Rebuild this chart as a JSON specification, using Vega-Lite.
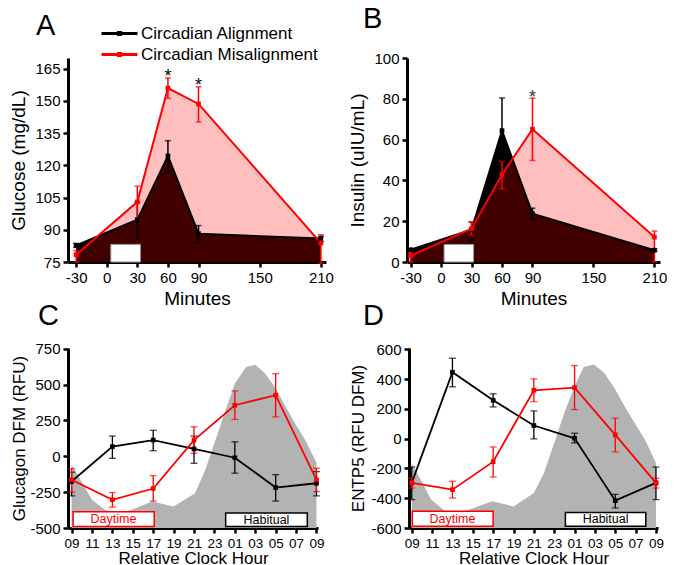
{
  "$schema": "https://vega.github.io/schema/vega-lite/v6.json",
  "background": "white",
  "padding": {"left": 9, "top": 5, "right": 0, "bottom": 0},
  "autosize": {"type": "pad"},
  "spacing": -7,
  "config": {
    "view": {"stroke": null},
    "font": "Liberation Sans",
    "axis": {
      "domainColor": "#000", "domainWidth": 3, "tickColor": "#000", "tickWidth": 2.5, "tickSize": 5,
      "labelFont": "Liberation Sans", "labelFontSize": 15, "labelColor": "#000", "labelPadding": 3,
      "titleFont": "Liberation Sans", "titleFontWeight": "normal", "titleColor": "#000", "grid": false,
      "labelFlush": false, "labelOverlap": false, "labelBound": false
    },
    "title": {"font": "Liberation Sans", "fontSize": 29, "fontWeight": "normal", "color": "#000", "anchor": "start", "frame": "group"}
  },
  "datasets": {
    "glucose": [
      {"series": "Circadian Alignment", "t": -30, "mean": 82.7, "lo": 81.8, "hi": 83.7, "sig": ""},
      {"series": "Circadian Alignment", "t": 30, "mean": 94.7, "lo": 85.7, "hi": 102.9, "sig": ""},
      {"series": "Circadian Alignment", "t": 60, "mean": 124.4, "lo": 116.4, "hi": 131.5, "sig": ""},
      {"series": "Circadian Alignment", "t": 90, "mean": 88.2, "lo": 83.8, "hi": 92, "sig": ""},
      {"series": "Circadian Alignment", "t": 210, "mean": 85.9, "lo": 84.4, "hi": 87, "sig": ""},
      {"series": "Circadian Misalignment", "t": -30, "mean": 78.4, "lo": 75, "hi": 80.4, "sig": ""},
      {"series": "Circadian Misalignment", "t": 30, "mean": 103, "lo": 94.4, "hi": 110.3, "sig": ""},
      {"series": "Circadian Misalignment", "t": 60, "mean": 156, "lo": 151.2, "hi": 160.7, "sig": "*"},
      {"series": "Circadian Misalignment", "t": 90, "mean": 148.6, "lo": 140.2, "hi": 156.6, "sig": "*"},
      {"series": "Circadian Misalignment", "t": 210, "mean": 83.8, "lo": 74.5, "hi": 87.7, "sig": ""}
    ],
    "insulin": [
      {"series": "Circadian Alignment", "t": -30, "mean": 6.0, "lo": 5.4, "hi": 6.6, "sig": ""},
      {"series": "Circadian Alignment", "t": 30, "mean": 15.8, "lo": 10.6, "hi": 19.6, "sig": ""},
      {"series": "Circadian Alignment", "t": 60, "mean": 64.4, "lo": 48, "hi": 80.4, "sig": ""},
      {"series": "Circadian Alignment", "t": 90, "mean": 23.7, "lo": 20.9, "hi": 26.4, "sig": ""},
      {"series": "Circadian Alignment", "t": 210, "mean": 5.8, "lo": 5.2, "hi": 6.4, "sig": ""},
      {"series": "Circadian Misalignment", "t": -30, "mean": 3.1, "lo": 0, "hi": 4.9, "sig": ""},
      {"series": "Circadian Misalignment", "t": 30, "mean": 16.3, "lo": 13, "hi": 19.6, "sig": ""},
      {"series": "Circadian Misalignment", "t": 60, "mean": 42.9, "lo": 35.9, "hi": 49.4, "sig": ""},
      {"series": "Circadian Misalignment", "t": 90, "mean": 65.1, "lo": 49.8, "hi": 80.3, "sig": "*"},
      {"series": "Circadian Misalignment", "t": 210, "mean": 12.2, "lo": 0, "hi": 15.2, "sig": ""}
    ],
    "glucagon": [
      {"series": "Circadian Alignment", "h": 0, "mean": -176, "lo": -276, "hi": -111},
      {"series": "Circadian Alignment", "h": 4, "mean": 67, "lo": -14, "hi": 141},
      {"series": "Circadian Alignment", "h": 8, "mean": 113, "lo": 39, "hi": 181},
      {"series": "Circadian Alignment", "h": 12, "mean": 51, "lo": -49, "hi": 141},
      {"series": "Circadian Alignment", "h": 16, "mean": -10, "lo": -118, "hi": 101},
      {"series": "Circadian Alignment", "h": 20, "mean": -218, "lo": -312, "hi": -128},
      {"series": "Circadian Alignment", "h": 24, "mean": -188, "lo": -276, "hi": -107},
      {"series": "Circadian Misalignment", "h": 0, "mean": -164, "lo": -250, "hi": -86},
      {"series": "Circadian Misalignment", "h": 4, "mean": -303, "lo": -354, "hi": -253},
      {"series": "Circadian Misalignment", "h": 8, "mean": -225, "lo": -312, "hi": -135},
      {"series": "Circadian Misalignment", "h": 12, "mean": 113, "lo": 21, "hi": 206},
      {"series": "Circadian Misalignment", "h": 16, "mean": 356, "lo": 257, "hi": 456},
      {"series": "Circadian Misalignment", "h": 20, "mean": 426, "lo": 275, "hi": 576},
      {"series": "Circadian Misalignment", "h": 24, "mean": -164, "lo": -246, "hi": -83}
    ],
    "entp5": [
      {"series": "Circadian Alignment", "h": 0, "mean": -297, "lo": -409, "hi": -190},
      {"series": "Circadian Alignment", "h": 4, "mean": 447, "lo": 349, "hi": 541},
      {"series": "Circadian Alignment", "h": 8, "mean": 259, "lo": 214, "hi": 302},
      {"series": "Circadian Alignment", "h": 12, "mean": 89, "lo": -1, "hi": 187},
      {"series": "Circadian Alignment", "h": 16, "mean": 3, "lo": -28, "hi": 37},
      {"series": "Circadian Alignment", "h": 20, "mean": -416, "lo": -465, "hi": -374},
      {"series": "Circadian Alignment", "h": 24, "mean": -297, "lo": -409, "hi": -190},
      {"series": "Circadian Misalignment", "h": 0, "mean": -297, "lo": -331, "hi": -266},
      {"series": "Circadian Misalignment", "h": 4, "mean": -342, "lo": -398, "hi": -286},
      {"series": "Circadian Misalignment", "h": 8, "mean": -154, "lo": -257, "hi": -55},
      {"series": "Circadian Misalignment", "h": 12, "mean": 326, "lo": 250, "hi": 403},
      {"series": "Circadian Misalignment", "h": 16, "mean": 344, "lo": 196, "hi": 492},
      {"series": "Circadian Misalignment", "h": 20, "mean": 26, "lo": -88, "hi": 138},
      {"series": "Circadian Misalignment", "h": 24, "mean": -297, "lo": -331, "hi": -266}
    ],
    "greyC": [
      {"h": 0, "v": -55}, {"h": 1, "v": -180}, {"h": 2, "v": -303}, {"h": 3.3, "v": -375}, {"h": 4.5, "v": -400},
      {"h": 5.9, "v": -373}, {"h": 7.9, "v": -315}, {"h": 10, "v": -350}, {"h": 12.1, "v": -257},
      {"h": 13.1, "v": -95}, {"h": 14.1, "v": 113}, {"h": 15.1, "v": 322}, {"h": 16, "v": 507},
      {"h": 17.1, "v": 622}, {"h": 18, "v": 639}, {"h": 19, "v": 576}, {"h": 20, "v": 472},
      {"h": 21, "v": 344}, {"h": 21.9, "v": 229}, {"h": 22.9, "v": 113}, {"h": 24, "v": -45}
    ],
    "greyD": [
      {"h": 0, "v": -165}, {"h": 1, "v": -290}, {"h": 1.9, "v": -409}, {"h": 3.3, "v": -488}, {"h": 4.5, "v": -500},
      {"h": 5.6, "v": -477}, {"h": 7.9, "v": -421}, {"h": 10, "v": -455}, {"h": 12, "v": -364},
      {"h": 13, "v": -230}, {"h": 14, "v": -28}, {"h": 15, "v": 174}, {"h": 16, "v": 353},
      {"h": 16.9, "v": 483}, {"h": 17.9, "v": 499}, {"h": 18.9, "v": 443}, {"h": 19.9, "v": 342},
      {"h": 21, "v": 208}, {"h": 22, "v": 95}, {"h": 23, "v": -17}, {"h": 24, "v": -163}
    ]
  },
  "vconcat": [
    {
      "spacing": 14,
      "hconcat": [
        {
          "width": 258, "height": 204,
          "title": {"text": "A", "dx": -32, "dy": -15, "offset": 2},
          "data": {"name": "glucose"},
          "layer": [
            {
              "transform": [{"filter": "datum.series === 'Circadian Alignment'"}],
              "mark": {"type": "area", "color": "#000000", "opacity": 1},
              "encoding": {
                "x": {"field": "t", "type": "quantitative", "title": "Minutes", "scale": {"domain": [-38, 215], "nice": false, "zero": false}, "axis": {"values": [-30, 0, 30, 60, 90, 150, 210], "tickCount": 50, "labelExpr": "'' + datum.value", "labelOverlap": false, "titleFontSize": 19, "titlePadding": 4}},
                "y": {"field": "mean", "type": "quantitative", "title": "Glucose (mg/dL)", "scale": {"domain": [75, 170], "nice": false, "zero": false}, "axis": {"values": [75, 90, 105, 120, 135, 150, 165], "tickCount": 50, "labelExpr": "'' + datum.value", "labelOverlap": false, "titleFontSize": 19, "titlePadding": 6}},
                "y2": {"datum": 75}
              }
            },
            {
              "transform": [{"filter": "datum.series === 'Circadian Misalignment'"}],
              "mark": {"type": "area", "color": "#ff0000", "fillOpacity": 0.25},
              "encoding": {
                "x": {"field": "t", "type": "quantitative", "title": "Minutes"},
                "y": {"field": "mean", "type": "quantitative", "title": "Glucose (mg/dL)"},
                "y2": {"datum": 75}
              }
            },
            {
              "data": {"values": [{}]},
              "mark": {"type": "rect", "fill": "#ffffff", "stroke": "#999999", "strokeWidth": 1},
              "encoding": {"x": {"datum": 4}, "x2": {"datum": 33}, "y": {"datum": 75}, "y2": {"datum": 83.2}}
            },
            {
              "mark": {"type": "line", "strokeWidth": 2},
              "encoding": {
                "x": {"field": "t", "type": "quantitative", "title": "Minutes"},
                "y": {"field": "mean", "type": "quantitative", "title": "Glucose (mg/dL)"},
                "color": {"field": "series", "type": "nominal", "scale": {"domain": ["Circadian Alignment", "Circadian Misalignment"], "range": ["#000000", "#ff0000"]},
                  "legend": {"orient": "none", "legendX": 40, "legendY": -36, "title": null, "symbolType": "M-1.8,0H1.8M-0.1,-0.1H0.1V0.1H-0.1Z", "symbolStrokeWidth": 3, "symbolSize": 400, "labelFontSize": 17, "labelFont": "Liberation Sans", "labelColor": "#000", "labelLimit": 0, "rowPadding": 1, "labelOffset": 10}}
              }
            },
            {
              "mark": {"type": "errorbar", "ticks": {"size": 6, "thickness": 1.5}, "rule": {"strokeWidth": 1.5}},
              "encoding": {
                "x": {"field": "t", "type": "quantitative", "title": "Minutes"},
                "y": {"field": "lo", "type": "quantitative", "title": "Glucose (mg/dL)"},
                "y2": {"field": "hi"},
                "color": {"field": "series", "type": "nominal", "legend": null}
              }
            },
            {
              "mark": {"type": "point", "shape": "square", "filled": true, "size": 22, "opacity": 1},
              "encoding": {
                "x": {"field": "t", "type": "quantitative", "title": "Minutes"},
                "y": {"field": "mean", "type": "quantitative", "title": "Glucose (mg/dL)"},
                "color": {"field": "series", "type": "nominal", "legend": null}
              }
            },
            {
              "transform": [{"filter": "datum.sig === '*'"}],
              "mark": {"type": "text", "fontSize": 18, "dy": 4, "baseline": "alphabetic", "color": "#000"},
              "encoding": {
                "x": {"field": "t", "type": "quantitative", "title": "Minutes"},
                "y": {"field": "hi", "type": "quantitative", "title": "Glucose (mg/dL)"},
                "text": {"field": "sig"}
              }
            }
          ]
        },
        {
          "width": 253, "height": 204,
          "title": {"text": "B", "dx": -44, "dy": -15, "offset": 2},
          "data": {"name": "insulin"},
          "layer": [
            {
              "transform": [{"filter": "datum.series === 'Circadian Alignment'"}],
              "mark": {"type": "area", "color": "#000000", "opacity": 1},
              "encoding": {
                "x": {"field": "t", "type": "quantitative", "title": "Minutes", "scale": {"domain": [-33.5, 215.5], "nice": false, "zero": false}, "axis": {"values": [-30, 0, 30, 60, 90, 150, 210], "tickCount": 50, "labelExpr": "'' + datum.value", "labelOverlap": false, "titleFontSize": 19, "titlePadding": 4}},
                "y": {"field": "mean", "type": "quantitative", "title": "Insulin (uIU/mL)", "scale": {"domain": [0, 100], "nice": false}, "axis": {"values": [0, 20, 40, 60, 80, 100], "tickCount": 50, "labelExpr": "'' + datum.value", "labelOverlap": false, "titleFontSize": 19, "titlePadding": 6}},
                "y2": {"datum": 0}
              }
            },
            {
              "transform": [{"filter": "datum.series === 'Circadian Misalignment'"}],
              "mark": {"type": "area", "color": "#ff0000", "fillOpacity": 0.25},
              "encoding": {
                "x": {"field": "t", "type": "quantitative", "title": "Minutes"},
                "y": {"field": "mean", "type": "quantitative", "title": "Insulin (uIU/mL)"},
                "y2": {"datum": 0}
              }
            },
            {
              "data": {"values": [{}]},
              "mark": {"type": "rect", "fill": "#ffffff", "stroke": "#999999", "strokeWidth": 1},
              "encoding": {"x": {"datum": 3}, "x2": {"datum": 32}, "y": {"datum": 0}, "y2": {"datum": 8.6}}
            },
            {
              "mark": {"type": "line", "strokeWidth": 2},
              "encoding": {
                "x": {"field": "t", "type": "quantitative", "title": "Minutes"},
                "y": {"field": "mean", "type": "quantitative", "title": "Insulin (uIU/mL)"},
                "color": {"field": "series", "type": "nominal", "scale": {"domain": ["Circadian Alignment", "Circadian Misalignment"], "range": ["#000000", "#ff0000"]}, "legend": null}
              }
            },
            {
              "mark": {"type": "errorbar", "ticks": {"size": 6, "thickness": 1.5}, "rule": {"strokeWidth": 1.5}},
              "encoding": {
                "x": {"field": "t", "type": "quantitative", "title": "Minutes"},
                "y": {"field": "lo", "type": "quantitative", "title": "Insulin (uIU/mL)"},
                "y2": {"field": "hi"},
                "color": {"field": "series", "type": "nominal", "legend": null}
              }
            },
            {
              "mark": {"type": "point", "shape": "square", "filled": true, "size": 22, "opacity": 1},
              "encoding": {
                "x": {"field": "t", "type": "quantitative", "title": "Minutes"},
                "y": {"field": "mean", "type": "quantitative", "title": "Insulin (uIU/mL)"},
                "color": {"field": "series", "type": "nominal", "legend": null}
              }
            },
            {
              "transform": [{"filter": "datum.sig === '*'"}],
              "mark": {"type": "text", "fontSize": 18, "dy": 5, "baseline": "alphabetic", "color": "#333"},
              "encoding": {
                "x": {"field": "t", "type": "quantitative", "title": "Minutes"},
                "y": {"field": "hi", "type": "quantitative", "title": "Insulin (uIU/mL)"},
                "text": {"field": "sig"}
              }
            }
          ]
        }
      ]
    },
    {
      "spacing": 25,
      "hconcat": [
        {
          "width": 250, "height": 180,
          "title": {"text": "C", "dx": -30, "dy": -3, "offset": 8},
          "layer": [
            {
              "data": {"name": "greyC"},
              "mark": {"type": "area", "color": "#b3b3b3", "opacity": 1},
              "encoding": {
                "x": {"field": "h", "type": "quantitative", "title": "Relative Clock Hour", "scale": {"domain": [-0.35, 24.15], "nice": false, "zero": false},
                  "axis": {"values": [0, 2, 4, 6, 8, 10, 12, 14, 16, 18, 20, 22, 24], "tickCount": 50, "labelExpr": "(((datum.value + 9) % 24) < 10 ? '0' : '') + ((datum.value + 9) % 24)", "labelOverlap": false, "labelFontSize": 13.5, "titleFontSize": 17, "titlePadding": 1}},
                "y": {"field": "v", "type": "quantitative", "title": "Glucagon DFM (RFU)", "scale": {"domain": [-500, 755], "nice": false, "zero": false}, "axis": {"values": [-500, -250, 0, 250, 500, 750], "tickCount": 50, "labelExpr": "'' + datum.value", "labelOverlap": false, "titleFontSize": 17, "titlePadding": 1}},
                "y2": {"datum": -500}
              }
            },
            {
              "data": {"values": [{}]},
              "mark": {"type": "rect", "fill": "#ffffff", "stroke": "#ff0000", "strokeWidth": 1.5},
              "encoding": {"x": {"datum": 0.15}, "x2": {"datum": 8.1}, "y": {"datum": -489}, "y2": {"datum": -386}}
            },
            {
              "data": {"values": [{}]},
              "mark": {"type": "text", "color": "#ff0000", "fontSize": 12.5, "font": "Liberation Sans"},
              "encoding": {"x": {"datum": 4.1}, "y": {"datum": -437}, "text": {"value": "Daytime"}}
            },
            {
              "data": {"values": [{}]},
              "mark": {"type": "rect", "fill": "#ffffff", "stroke": "#000000", "strokeWidth": 1.5},
              "encoding": {"x": {"datum": 15.1}, "x2": {"datum": 23.1}, "y": {"datum": -489}, "y2": {"datum": -396}}
            },
            {
              "data": {"values": [{}]},
              "mark": {"type": "text", "color": "#000000", "fontSize": 12.5, "font": "Liberation Sans"},
              "encoding": {"x": {"datum": 19.1}, "y": {"datum": -442}, "text": {"value": "Habitual"}}
            },
            {
              "data": {"name": "glucagon"},
              "mark": {"type": "line", "strokeWidth": 1.8},
              "encoding": {
                "x": {"field": "h", "type": "quantitative", "title": "Relative Clock Hour"},
                "y": {"field": "mean", "type": "quantitative", "title": "Glucagon DFM (RFU)"},
                "color": {"field": "series", "type": "nominal", "scale": {"domain": ["Circadian Alignment", "Circadian Misalignment"], "range": ["#000000", "#ff0000"]}, "legend": null}
              }
            },
            {
              "data": {"name": "glucagon"},
              "mark": {"type": "errorbar", "ticks": {"size": 7, "thickness": 1.3}, "rule": {"strokeWidth": 1.3}},
              "encoding": {
                "x": {"field": "h", "type": "quantitative", "title": "Relative Clock Hour"},
                "y": {"field": "lo", "type": "quantitative", "title": "Glucagon DFM (RFU)"},
                "y2": {"field": "hi"},
                "color": {"field": "series", "type": "nominal", "legend": null}
              }
            },
            {
              "data": {"name": "glucagon"},
              "mark": {"type": "point", "shape": "square", "filled": true, "size": 22, "opacity": 1},
              "encoding": {
                "x": {"field": "h", "type": "quantitative", "title": "Relative Clock Hour"},
                "y": {"field": "mean", "type": "quantitative", "title": "Glucagon DFM (RFU)"},
                "color": {"field": "series", "type": "nominal", "legend": null}
              }
            }
          ]
        },
        {
          "width": 249, "height": 180,
          "title": {"text": "D", "dx": -46, "dy": -3, "offset": 8},
          "layer": [
            {
              "data": {"name": "greyD"},
              "mark": {"type": "area", "color": "#b3b3b3", "opacity": 1},
              "encoding": {
                "x": {"field": "h", "type": "quantitative", "title": "Relative Clock Hour", "scale": {"domain": [-0.27, 24.2], "nice": false, "zero": false},
                  "axis": {"values": [0, 2, 4, 6, 8, 10, 12, 14, 16, 18, 20, 22, 24], "tickCount": 50, "labelExpr": "(((datum.value + 9) % 24) < 10 ? '0' : '') + ((datum.value + 9) % 24)", "labelOverlap": false, "labelFontSize": 13.5, "titleFontSize": 17, "titlePadding": 1}},
                "y": {"field": "v", "type": "quantitative", "title": "ENTP5 (RFU DFM)", "scale": {"domain": [-600, 610], "nice": false, "zero": false}, "axis": {"values": [-600, -400, -200, 0, 200, 400, 600], "tickCount": 50, "labelExpr": "'' + datum.value", "labelOverlap": false, "titleFontSize": 17, "titlePadding": 3}},
                "y2": {"datum": -600}
              }
            },
            {
              "data": {"values": [{}]},
              "mark": {"type": "rect", "fill": "#ffffff", "stroke": "#ff0000", "strokeWidth": 1.5},
              "encoding": {"x": {"datum": 0.05}, "x2": {"datum": 8.0}, "y": {"datum": -589}, "y2": {"datum": -488}}
            },
            {
              "data": {"values": [{}]},
              "mark": {"type": "text", "color": "#ff0000", "fontSize": 12.5, "font": "Liberation Sans"},
              "encoding": {"x": {"datum": 4.0}, "y": {"datum": -538}, "text": {"value": "Daytime"}}
            },
            {
              "data": {"values": [{}]},
              "mark": {"type": "rect", "fill": "#ffffff", "stroke": "#000000", "strokeWidth": 1.5},
              "encoding": {"x": {"datum": 15.1}, "x2": {"datum": 23.0}, "y": {"datum": -589}, "y2": {"datum": -495}}
            },
            {
              "data": {"values": [{}]},
              "mark": {"type": "text", "color": "#000000", "fontSize": 12.5, "font": "Liberation Sans"},
              "encoding": {"x": {"datum": 19.05}, "y": {"datum": -542}, "text": {"value": "Habitual"}}
            },
            {
              "data": {"name": "entp5"},
              "mark": {"type": "line", "strokeWidth": 1.8},
              "encoding": {
                "x": {"field": "h", "type": "quantitative", "title": "Relative Clock Hour"},
                "y": {"field": "mean", "type": "quantitative", "title": "ENTP5 (RFU DFM)"},
                "color": {"field": "series", "type": "nominal", "scale": {"domain": ["Circadian Alignment", "Circadian Misalignment"], "range": ["#000000", "#ff0000"]}, "legend": null}
              }
            },
            {
              "data": {"name": "entp5"},
              "mark": {"type": "errorbar", "ticks": {"size": 7, "thickness": 1.3}, "rule": {"strokeWidth": 1.3}},
              "encoding": {
                "x": {"field": "h", "type": "quantitative", "title": "Relative Clock Hour"},
                "y": {"field": "lo", "type": "quantitative", "title": "ENTP5 (RFU DFM)"},
                "y2": {"field": "hi"},
                "color": {"field": "series", "type": "nominal", "legend": null}
              }
            },
            {
              "data": {"name": "entp5"},
              "mark": {"type": "point", "shape": "square", "filled": true, "size": 22, "opacity": 1},
              "encoding": {
                "x": {"field": "h", "type": "quantitative", "title": "Relative Clock Hour"},
                "y": {"field": "mean", "type": "quantitative", "title": "ENTP5 (RFU DFM)"},
                "color": {"field": "series", "type": "nominal", "legend": null}
              }
            }
          ]
        }
      ]
    }
  ]
}
